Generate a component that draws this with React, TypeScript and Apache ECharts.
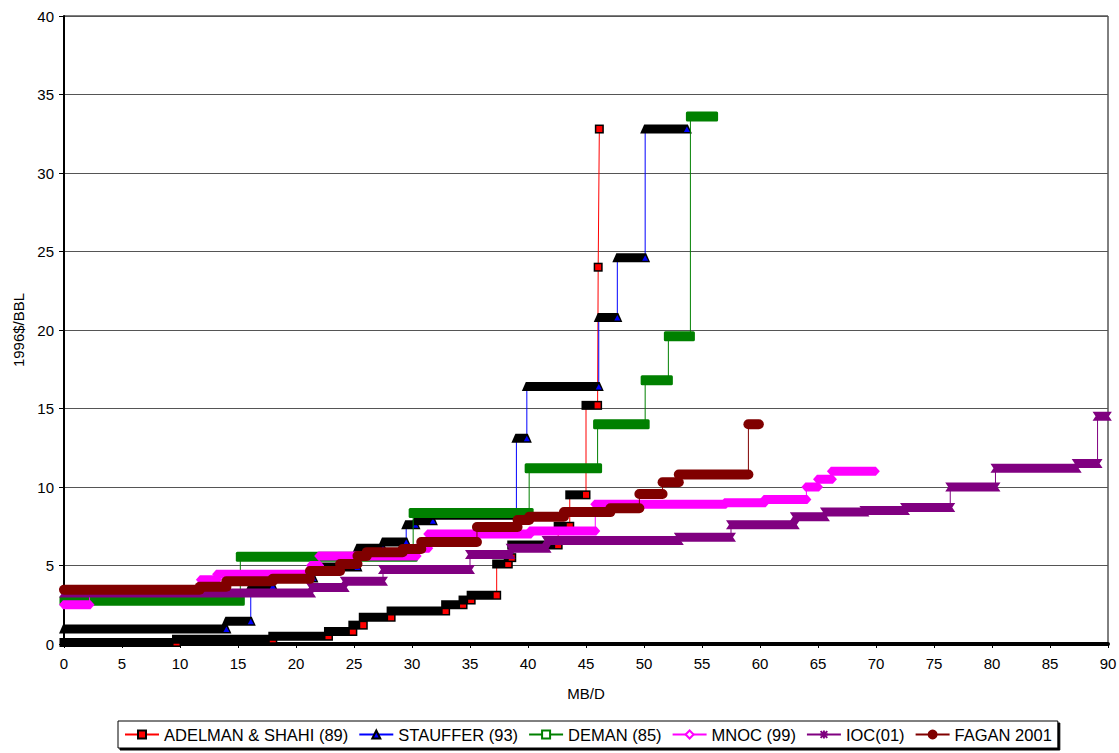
import React, { useEffect, useRef } from 'react';
import * as echarts from 'echarts';

// Each step: [xStart, xEnd, price]
type Step = [number, number, number];

const adelman: Step[] = [
  [0, 9.7, 0.1], [9.7, 18.0, 0.3], [18.0, 22.8, 0.5], [22.8, 24.9, 0.8],
  [24.9, 25.8, 1.2], [25.8, 28.2, 1.7], [28.2, 32.9, 2.1], [32.9, 34.4, 2.5],
  [34.4, 35.1, 2.8], [35.1, 37.3, 3.1], [37.3, 38.3, 5.1], [38.3, 38.6, 5.5],
  [38.6, 42.6, 6.3], [42.6, 43.6, 7.5], [43.6, 45.0, 9.5], [45.0, 46.0, 15.2],
  [46.05, 46.05, 24.0], [46.15, 46.15, 32.8],
];

const stauffer: Step[] = [
  [0, 14.0, 0.95], [14.0, 16.1, 1.45], [16.1, 18.0, 3.7], [18.0, 21.5, 4.2],
  [21.5, 25.3, 4.9], [25.3, 27.5, 6.1], [27.5, 29.5, 6.5], [29.5, 30.3, 7.6],
  [30.3, 31.8, 7.85], [31.8, 39.0, 8.2], [39.0, 39.9, 13.1], [39.9, 46.1, 16.4],
  [46.1, 47.7, 20.8], [47.7, 50.1, 24.6], [50.1, 53.7, 32.8],
];

const deman: Step[] = [
  [0, 15.2, 2.75], [15.2, 30.1, 5.55], [30.1, 40.1, 8.35], [40.1, 46.0, 11.2],
  [46.0, 50.1, 14.0], [50.1, 52.1, 16.8], [52.1, 54.0, 19.6], [54.0, 56.0, 33.6],
];

const mnoc: Step[] = [
  [0, 2.2, 2.5], [2.2, 11.8, 3.35], [11.8, 13.2, 4.1], [13.2, 21.3, 4.45],
  [21.3, 22.0, 5.0], [22.0, 30.4, 5.6], [30.4, 31.4, 6.1], [31.4, 40.2, 7.0],
  [40.2, 45.8, 7.2], [45.8, 57.0, 8.9], [57.0, 60.4, 9.0], [60.4, 64.0, 9.2],
  [64.0, 65.0, 10.0], [65.0, 66.2, 10.5], [66.2, 69.9, 11.0],
];

const ioc: Step[] = [
  [0, 21.3, 3.25], [21.3, 24.2, 3.6], [24.2, 27.5, 4.0], [27.5, 35.0, 4.75],
  [35.0, 38.5, 5.7], [38.5, 41.6, 6.1], [41.6, 53.0, 6.6], [53.0, 57.5, 6.8],
  [57.5, 63.0, 7.6], [63.0, 65.6, 8.1], [65.6, 69.0, 8.4], [69.0, 72.5, 8.5],
  [72.5, 76.4, 8.7], [76.4, 80.3, 10.0], [80.3, 87.3, 11.2], [87.3, 89.1, 11.5],
  [89.1, 89.9, 14.5],
];

const fagan: Step[] = [
  [0, 11.7, 3.45], [11.7, 14.0, 3.65], [14.0, 18.0, 4.0], [18.0, 21.2, 4.15],
  [21.2, 23.8, 4.65], [23.8, 25.3, 5.1], [25.3, 26.1, 5.6], [26.1, 29.2, 5.85],
  [29.2, 30.8, 6.05], [30.8, 35.6, 6.5], [35.6, 39.1, 7.45], [39.1, 40.1, 7.9],
  [40.1, 43.1, 8.1], [43.1, 47.1, 8.4], [47.1, 49.6, 8.65], [49.6, 51.6, 9.55],
  [51.6, 53.0, 10.3], [53.0, 59.0, 10.8], [59.0, 59.9, 14.0],
];

const seriesNames = [
  'ADELMAN & SHAHI (89)', 'STAUFFER (93)', 'DEMAN (85)', 'MNOC (99)', 'IOC(01)', 'FAGAN 2001',
];

const FONT = 'Liberation Sans, Arial, sans-serif';

const asterisk = 'path://M0,0L10,10M10,0L0,10M5,-1L5,11M-1,5L11,5';

interface Def {
  name: string;
  steps: Step[];
  line: string;
  kind: string;
  symbol: string;
  item: any;
}

const defs: Def[] = [
  { name: seriesNames[0], steps: adelman, line: '#ff0000', kind: 'square', symbol: 'rect',
    item: { color: '#ff0000', borderColor: '#000', borderWidth: 1 } },
  { name: seriesNames[1], steps: stauffer, line: '#0000ff', kind: 'triangle', symbol: 'triangle',
    item: { color: '#0000ff', borderColor: '#000', borderWidth: 1 } },
  { name: seriesNames[2], steps: deman, line: '#008000', kind: 'box', symbol: 'rect',
    item: { color: '#ffffff', borderColor: '#008000', borderWidth: 1.2 } },
  { name: seriesNames[3], steps: mnoc, line: '#ff00ff', kind: 'hex', symbol: 'diamond',
    item: { color: '#ffffff', borderColor: '#ff00ff', borderWidth: 1.2 } },
  { name: seriesNames[4], steps: ioc, line: '#800080', kind: 'notch', symbol: asterisk,
    item: { color: 'rgba(0,0,0,0)', borderColor: '#800080', borderWidth: 1.3 } },
  { name: seriesNames[5], steps: fagan, line: '#800000', kind: 'round', symbol: 'circle',
    item: { color: '#800000', borderColor: '#800000', borderWidth: 1 } },
];

function makeRender(kind: string) {
  return (params: any, api: any) => {
    const x1 = api.value(0);
    const x2 = api.value(1);
    const y = api.value(2);
    const a = api.coord([x1, y]);
    const b = api.coord([x2, y]);
    const l = a[0];
    const r = b[0];
    const c = a[1];
    const children: any[] = [];
    if (kind === 'square') {
      children.push({ type: 'rect', shape: { x: l - 4.5, y: c - 4.5, width: r - l + 9, height: 9 }, style: { fill: '#000' } });
      children.push({ type: 'rect', shape: { x: r - 3, y: c - 3, width: 6, height: 6 }, style: { fill: '#ff0000' } });
    } else if (kind === 'triangle') {
      children.push({ type: 'polygon', shape: { points: [[l - 5, c + 4.5], [l - 1, c - 4.5], [r + 1, c - 4.5], [r + 5, c + 4.5]] }, style: { fill: '#000' } });
      children.push({ type: 'polygon', shape: { points: [[r - 3, c + 3], [r, c - 2.5], [r + 3, c + 3]] }, style: { fill: '#0000ff' } });
    } else if (kind === 'box') {
      children.push({ type: 'rect', shape: { x: l - 4.5, y: c - 5, width: r - l + 9, height: 10, r: 1.5 }, style: { fill: '#008000' } });
    } else if (kind === 'hex') {
      children.push({ type: 'polygon', shape: { points: [[l - 5, c], [l - 1, c - 4.5], [r + 1, c - 4.5], [r + 5, c], [r + 1, c + 4.5], [l - 1, c + 4.5]] }, style: { fill: '#ff00ff' } });
    } else if (kind === 'notch') {
      children.push({ type: 'polygon', shape: { points: [[l - 5, c - 4.5], [r + 5, c - 4.5], [r + 2, c], [r + 5, c + 4.5], [l - 5, c + 4.5], [l - 2, c]] }, style: { fill: '#800080' } });
    } else {
      children.push({ type: 'rect', shape: { x: l - 5, y: c - 5, width: r - l + 10, height: 10, r: 5 }, style: { fill: '#800000' } });
    }
    return { type: 'group', children };
  };
}

function stepLine(steps: Step[]): number[][] {
  const pts: number[][] = [];
  steps.forEach((s) => {
    pts.push([s[0], s[2]]);
    if (s[1] !== s[0]) pts.push([s[1], s[2]]);
  });
  return pts;
}

export default function App() {
  const ref = useRef<HTMLDivElement>(null);
  useEffect(() => {
    document.body.style.margin = '0';
    if (!ref.current) return;
    const chart = echarts.init(ref.current, undefined, { renderer: 'svg' });
    const series: any[] = [];
    defs.forEach((d, i) => {
      series.push({
        name: d.name,
        type: 'line',
        data: stepLine(d.steps),
        showSymbol: false,
        symbol: d.symbol,
        symbolSize: 8,
        itemStyle: d.item,
        lineStyle: { color: d.line, width: 1 },
        z: 2 + i * 2,
        silent: true,
      });
      series.push({
        name: d.name + ' steps',
        type: 'custom',
        data: d.steps,
        encode: { x: [0, 1], y: 2 },
        renderItem: makeRender(d.kind),
        z: 3 + i * 2,
        silent: true,
      });
    });
    chart.setOption({
      animation: false,
      backgroundColor: '#fff',
      textStyle: { fontFamily: FONT },
      grid: {
        left: 64, right: 11, top: 16, bottom: 109,
        show: true, borderColor: '#000', borderWidth: 1,
        outerBoundsMode: 'none',
      },
      legend: {
        data: seriesNames,
        left: 118, top: 721,
        itemWidth: 34, itemHeight: 10, itemGap: 10,
        padding: [5, 6, 5, 6],
        borderColor: '#000', borderWidth: 1,
        backgroundColor: '#fff',
        shadowColor: '#000', shadowOffsetX: 2, shadowOffsetY: 2, shadowBlur: 0,
        textStyle: { fontFamily: FONT, fontSize: 16.5, color: '#000' },
        selectedMode: false,
      },
      xAxis: {
        type: 'value', min: 0, max: 90, interval: 5,
        name: 'MB/D', nameLocation: 'middle', nameGap: 42,
        nameTextStyle: { fontFamily: FONT, fontSize: 15, color: '#000' },
        axisLine: { show: true, onZero: false, lineStyle: { color: '#000', width: 4 } },
        axisTick: { show: true, length: 4, lineStyle: { color: '#000' } },
        axisLabel: { fontFamily: FONT, fontSize: 15, color: '#000', margin: 12 },
        splitLine: { show: false },
      },
      yAxis: {
        type: 'value', min: 0, max: 40, interval: 5,
        name: '1996$/BBL', nameLocation: 'middle', nameGap: 38,
        nameTextStyle: { fontFamily: FONT, fontSize: 15, color: '#000' },
        axisLine: { show: true, lineStyle: { color: '#000', width: 2 } },
        axisTick: { show: true, length: 5, lineStyle: { color: '#000' } },
        axisLabel: { fontFamily: FONT, fontSize: 15, color: '#000', margin: 10 },
        splitLine: { show: true, lineStyle: { color: '#555', width: 1 } },
      },
      series,
    });
    return () => chart.dispose();
  }, []);
  return <div ref={ref} style={{ width: 1119, height: 753 }} />;
}
